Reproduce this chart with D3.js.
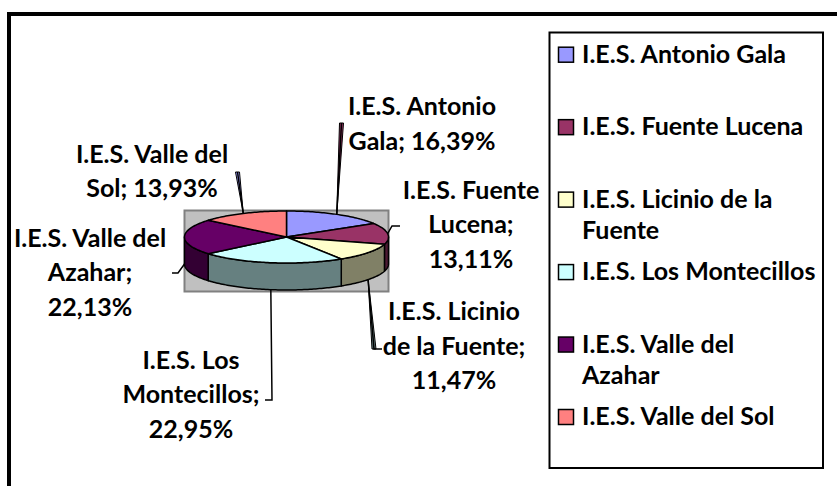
<!DOCTYPE html>
<html lang="es">
<head>
<meta charset="utf-8">
<title>Alumnado por centro</title>
<script src="https://cdnjs.cloudflare.com/ajax/libs/d3/7.8.5/d3.min.js"></script>
<style>
body { margin: 0; background: #fff; }
svg text { font-family: Lato, "Open Sans", sans-serif; font-weight: bold; fill: #000; }
</style>
</head>
<body>
<script>
// datos
var centros = ["I.E.S. Antonio Gala", "I.E.S. Fuente Lucena", "I.E.S. Licinio de la Fuente",
               "I.E.S. Los Montecillos", "I.E.S. Valle del Azahar", "I.E.S. Valle del Sol"];
var valores = [16.39, 13.11, 11.47, 22.95, 22.13, 13.93];
var colores = ["#9999FF", "#993366", "#FFFFCC", "#CCFFFF", "#660066", "#FF8080"];
var coloresLado = ["#4D4D80", "#4D1A33", "#808066", "#668080", "#330033", "#804040"];

// palabras por linea (etiquetas y leyenda)
var lineasEtiqueta = [[2, 2], [2, 1, 1], [2, 3, 1], [2, 1, 1], [3, 1, 1], [3, 2]];
var lineasLeyenda = [[3], [3], [4, 1], [3], [3, 1], [4]];

var W = 837, H = 486;
var svg = d3.select("body").append("svg")
    .attr("width", W)
    .attr("height", H);

// marco exterior
svg.append("rect")
    .attr("x", 9).attr("y", 14)
    .attr("width", 900).attr("height", 600)
    .attr("fill", "#fff").attr("stroke", "#000").attr("stroke-width", 4);

// tamaño de letra ajustado al ancho del texto original
var prueba = svg.append("text").attr("font-size", 20).text("I.E.S. Antonio Gala");
var fs = 20 * 204 / prueba.node().getComputedTextLength();
prueba.remove();

// area de trazado
var area = {x: 184.5, y: 210.5, w: 204, h: 81};
svg.append("rect")
    .attr("x", area.x).attr("y", area.y)
    .attr("width", area.w).attr("height", area.h)
    .attr("fill", "#C0C0C0").attr("stroke", "#808080").attr("stroke-width", 2);

var cx = 286.5, cy = 237, rx = 102, ry = 26, fondo = 27;
var xs = d3.scaleLinear().domain([-1, 1]).range([cx - rx, cx + rx]);
var ys = d3.scaleLinear().domain([-1, 1]).range([cy - ry, cy + ry]);

var total = d3.sum(valores);
var pct = function(v) { return d3.format(".2f")(v / total * 100).replace(".", ",") + "%"; };

var arcos = d3.pie().sort(null).startAngle(0).endAngle(2 * Math.PI)(valores);

function puntos(a0, a1, dy) {
    var n = Math.max(2, Math.ceil((a1 - a0) / 0.02));
    return d3.range(n + 1).map(function(i) {
        var a = a0 + (a1 - a0) * i / n;
        return [xs(Math.sin(a)), ys(-Math.cos(a)) + dy];
    });
}
var linea = d3.line();

// laterales visibles (mitad delantera)
var lados = svg.append("g");
arcos.forEach(function(d, i) {
    var s = Math.max(d.startAngle, Math.PI / 2), e = Math.min(d.endAngle, 3 * Math.PI / 2);
    if (e <= s) return;
    var arriba = puntos(s, e, 0), abajo = puntos(s, e, fondo).reverse();
    lados.append("path")
        .attr("d", linea(arriba.concat(abajo)) + "Z")
        .attr("fill", coloresLado[i])
        .attr("stroke", "#000").attr("stroke-width", 1.5).attr("stroke-linejoin", "round");
});

// caras superiores
svg.append("g").selectAll("path")
    .data(arcos)
    .enter()
    .append("path")
    .attr("d", function(d) {
        return linea([[xs(0), ys(0)]].concat(puntos(d.startAngle, d.endAngle, 0))) + "Z";
    })
    .attr("fill", function(d, i) { return colores[i]; })
    .attr("stroke", "#000").attr("stroke-width", 1.5).attr("stroke-linejoin", "round");

// etiquetas de datos: posicion (centro x, primera linea base), fin de la linea guia
var etiquetas = [
    {x: 422, y: 115, fin: [341.5, 123], cola: 0, cuña: 4},
    {x: 471, y: 198.5, fin: [400, 226], cola: 8, cuña: 0},
    {x: 454, y: 320, fin: [382, 349], cola: 8, cuña: 4},
    {x: 191, y: 368.5, fin: [265, 400], cola: -7, cuña: 0},
    {x: 90, y: 246.5, fin: [172, 273], cola: -6, cuña: 0},
    {x: 152, y: 162.5, fin: [237.5, 172], cola: 0, cuña: 4}
];
var interlinea = 34.5;

function partir(texto, cortes) {
    var palabras = texto.split(" "), res = [], k = 0;
    cortes.forEach(function(n) { res.push(palabras.slice(k, k + n).join(" ")); k += n; });
    return res;
}

var guias = svg.append("g");
arcos.forEach(function(d, i) {
    var et = etiquetas[i];
    var m = (d.startAngle + d.endAngle) / 2;
    var delante = Math.cos(m) <= 1e-6;
    var ini = [xs(Math.sin(m)), ys(-Math.cos(m)) + (delante ? fondo : 0)];
    var codo = [et.fin[0] - et.cola, et.fin[1]];
    if (et.cuña) {
        var j = (i + 1) % valores.length;
        guias.append("path")
            .attr("d", linea([ini, [codo[0] - et.cuña / 2, codo[1]], [codo[0] + et.cuña / 2, codo[1]]]) + "Z")
            .attr("fill", delante ? coloresLado[j] : colores[j])
            .attr("stroke", "#000").attr("stroke-width", 1);
    }
    guias.append("path")
        .attr("d", linea(et.cola ? [ini, codo, et.fin] : [ini, et.fin]))
        .attr("fill", "none")
        .attr("stroke", "#000").attr("stroke-width", 1.5);

    var txt = svg.append("text")
        .attr("text-anchor", "middle")
        .attr("font-size", fs);
    partir(centros[i] + "; " + pct(valores[i]), lineasEtiqueta[i]).forEach(function(l, k) {
        txt.append("tspan").attr("x", et.x).attr("y", et.y + k * interlinea).text(l);
    });
});

// leyenda
var ley = svg.append("g");
ley.append("rect")
    .attr("x", 549.5).attr("y", 32.5)
    .attr("width", 273.5).attr("height", 435.5)
    .attr("fill", "#fff").attr("stroke", "#000").attr("stroke-width", 2);

var leyY = d3.scaleLinear().domain([0, 5]).range([62.7, 425]);
centros.forEach(function(c, i) {
    ley.append("rect")
        .attr("x", 558.5).attr("y", leyY(i) - 15.5)
        .attr("width", 15).attr("height", 15)
        .attr("fill", colores[i])
        .attr("stroke", "#000").attr("stroke-width", 1.5);
    var t = ley.append("text").attr("font-size", fs);
    partir(c, lineasLeyenda[i]).forEach(function(l, k) {
        t.append("tspan").attr("x", 582).attr("y", leyY(i) + k * 31).text(l);
    });
});
</script>
</body>
</html>
